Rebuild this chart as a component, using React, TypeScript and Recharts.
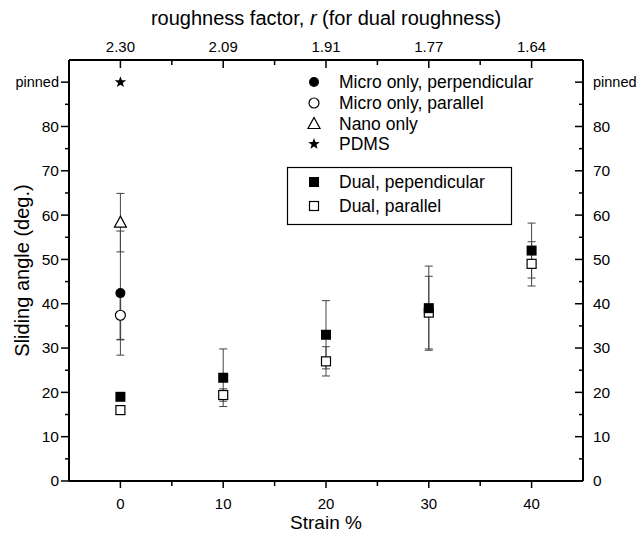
import { ScatterChart, Scatter, XAxis, YAxis, ErrorBar } from 'recharts'

const FONT = '"Liberation Sans", Arial, Helvetica, sans-serif'

// strain (%) and matching roughness factor of the dual-roughness surface
const strain = [0, 10, 20, 30, 40]
const roughness = ['2.30', '2.09', '1.91', '1.77', '1.64']

// dual roughness
const dualPerp = [19, 23.3, 33, 39, 52]
const dualPerpErr = [0.8, 6.5, 7.7, 9.5, 6.2]
const dualPar = [16, 19.4, 27, 38, 49]
const dualParErr = [0.8, 1.4, 3.3, 8.2, 5]

// single roughness / flat, only at 0 % strain
const microPerp = [42.4]
const microPerpErr = [14]
const microPar = [37.4]
const microParErr = [5.5]
const nanoOnly = [58.3]
const nanoOnlyErr = [6.6]
const PINNED = 90
const pdms = [PINNED]

const xTicks = [0, 5, 10, 15, 20, 25, 30, 35, 40]
const yTicks = [0, 5, 10, 15, 20, 25, 30, 35, 40, 45, 50, 55, 60, 65, 70, 75, 80, 85, 90]

const toPoints = (ys: number[], errs?: number[]) =>
  ys.map((y, i) => ({ x: strain[i], y, err: errs ? errs[i] : 0 }))

const dualPerpData = toPoints(dualPerp, dualPerpErr)
const dualParData = toPoints(dualPar, dualParErr)
const microPerpData = toPoints(microPerp, microPerpErr)
const microParData = toPoints(microPar, microParErr)
const nanoData = toPoints(nanoOnly, nanoOnlyErr)
const pdmsData = toPoints(pdms)

// ---- marker shapes
const FilledCircle = ({ cx, cy }: any) => <circle cx={cx} cy={cy} r={5} fill="#000" />
const OpenCircle = ({ cx, cy }: any) => (
  <circle cx={cx} cy={cy} r={5} fill="#fff" stroke="#000" strokeWidth={1.2} />
)
const Triangle = ({ cx, cy }: any) => (
  <path
    d={`M${cx},${cy - 6.5} L${cx + 6},${cy + 4.5} L${cx - 6},${cy + 4.5} Z`}
    fill="#fff"
    stroke="#000"
    strokeWidth={1.2}
  />
)
const Star = ({ cx, cy }: any) => {
  const pts: string[] = []
  for (let i = 0; i < 10; i++) {
    const r = i % 2 === 0 ? 6 : 2.5
    const a = -Math.PI / 2 + (i * Math.PI) / 5
    pts.push(`${cx + r * Math.cos(a)},${cy + r * Math.sin(a)}`)
  }
  return <polygon points={pts.join(' ')} fill="#000" />
}
const FilledSquare = ({ cx, cy }: any) => <rect x={cx - 5} y={cy - 5} width={10} height={10} fill="#000" />
const OpenSquare = ({ cx, cy }: any) => (
  <rect x={cx - 4.5} y={cy - 4.5} width={9} height={9} fill="#fff" stroke="#000" strokeWidth={1.2} />
)

// ---- ticks
function BottomTick({ x, y, payload }: any) {
  const major = payload.value % 10 === 0
  return (
    <g>
      <line x1={x} y1={y} x2={x} y2={y + (major ? 7 : 5)} stroke="#000" strokeWidth={1.5} />
      {major && (
        <text x={x} y={y + 28} textAnchor="middle" fontSize={15} fontFamily={FONT} fill="#000">
          {payload.value}
        </text>
      )}
    </g>
  )
}

function TopTick({ x, y, payload }: any) {
  const major = payload.value % 10 === 0
  const idx = strain.indexOf(payload.value)
  return (
    <g>
      <line x1={x} y1={y} x2={x} y2={y + (major ? 8 : 5)} stroke="#000" strokeWidth={1.5} />
      {major && idx >= 0 && (
        <text x={x} y={y - 8} textAnchor="middle" fontSize={15} fontFamily={FONT} fill="#000">
          {roughness[idx]}
        </text>
      )}
    </g>
  )
}

const yLabel = (v: number) => (v === PINNED ? 'pinned' : String(v))

function LeftTick({ x, y, payload }: any) {
  const major = payload.value % 10 === 0
  const pinned = payload.value === PINNED
  return (
    <g>
      <line x1={x} y1={y} x2={x - (major ? 8 : 4)} y2={y} stroke="#000" strokeWidth={1.5} />
      {major && (
        <text
          x={x - 10}
          y={y}
          dy="0.35em"
          textAnchor="end"
          fontSize={pinned ? 14.5 : 15.5}
          fontFamily={FONT}
          fill="#000"
        >
          {yLabel(payload.value)}
        </text>
      )}
    </g>
  )
}

function RightTick({ x, y, payload }: any) {
  const major = payload.value % 10 === 0
  const pinned = payload.value === PINNED
  return (
    <g>
      <line x1={x} y1={y} x2={x - (major ? 8 : 4)} y2={y} stroke="#000" strokeWidth={1.5} />
      {major && (
        <text
          x={x + 10}
          y={y}
          dy="0.35em"
          textAnchor="start"
          fontSize={pinned ? 14.5 : 15.5}
          fontFamily={FONT}
          fill="#000"
        >
          {yLabel(payload.value)}
        </text>
      )}
    </g>
  )
}

// ---- axis titles
function BottomTitle({ viewBox }: any) {
  return (
    <text x={viewBox.x + viewBox.width / 2} y={viewBox.y + 48} textAnchor="middle" fontSize={19} fontFamily={FONT} fill="#000">
      Strain %
    </text>
  )
}

function TopTitle({ viewBox }: any) {
  return (
    <text x={viewBox.x + viewBox.width / 2} y={25} textAnchor="middle" fontSize={20} fontFamily={FONT} fill="#000">
      roughness factor, <tspan fontStyle="italic">r</tspan>  (for dual roughness)
    </text>
  )
}

function LeftTitle({ viewBox }: any) {
  const cy = viewBox.y + viewBox.height / 2
  return (
    <text
      x={22}
      y={cy}
      transform={`rotate(-90 22 ${cy})`}
      textAnchor="middle"
      dy="0.35em"
      fontSize={20}
      fontFamily={FONT}
      fill="#000"
    >
      Sliding angle (deg.)
    </text>
  )
}

// ---- legend (drawn over the plot)
const legendTop = [
  { name: 'Micro only, perpendicular', Shape: FilledCircle, y: 82 },
  { name: 'Micro only, parallel', Shape: OpenCircle, y: 103 },
  { name: 'Nano only', Shape: Triangle, y: 124 },
  { name: 'PDMS', Shape: Star, y: 144 },
]
const legendBox = [
  { name: 'Dual, pependicular', Shape: FilledSquare, y: 182 },
  { name: 'Dual, parallel', Shape: OpenSquare, y: 206 },
]

function LegendOverlay() {
  const row = (item: any) => (
    <g key={item.name}>
      <item.Shape cx={314} cy={item.y} />
      <text x={339} y={item.y} dy="0.36em" fontSize={17.5} fontFamily={FONT} fill="#000">
        {item.name}
      </text>
    </g>
  )
  return (
    <svg
      width={643}
      height={533}
      style={{ position: 'absolute', left: 0, top: 0, pointerEvents: 'none' }}
    >
      {legendTop.map(row)}
      <rect x={287.5} y={167.5} width={224} height={57} fill="none" stroke="#000" strokeWidth={1.2} />
      {legendBox.map(row)}
    </svg>
  )
}

export default function App() {
  const axisLine = { stroke: '#000', strokeWidth: 2 }
  const errStroke = '#444'
  return (
    <div style={{ position: 'absolute', left: 0, top: 0, width: 643, height: 533, background: '#fff' }}>
      <ScatterChart width={643} height={533} margin={{ top: 0, right: 0, bottom: 0, left: 0 }}>
        <XAxis
          xAxisId="bottom"
          type="number"
          dataKey="x"
          domain={[-5, 45]}
          ticks={xTicks}
          interval={0}
          height={52}
          tickSize={0}
          tickMargin={0}
          tickLine={false}
          axisLine={axisLine}
          tick={<BottomTick />}
          label={<BottomTitle />}
        />
        <XAxis
          xAxisId="top"
          orientation="top"
          type="number"
          dataKey="x"
          domain={[-5, 45]}
          ticks={xTicks}
          interval={0}
          height={60}
          tickSize={0}
          tickMargin={0}
          tickLine={false}
          axisLine={axisLine}
          tick={<TopTick />}
          label={<TopTitle />}
        />
        <YAxis
          yAxisId="left"
          type="number"
          dataKey="y"
          domain={[0, 95]}
          ticks={yTicks}
          interval={0}
          width={69}
          tickSize={0}
          tickMargin={0}
          tickLine={false}
          axisLine={axisLine}
          tick={<LeftTick />}
          label={<LeftTitle />}
        />
        <YAxis
          yAxisId="right"
          orientation="right"
          type="number"
          dataKey="y"
          domain={[0, 95]}
          ticks={yTicks}
          interval={0}
          width={60}
          tickSize={0}
          tickMargin={0}
          tickLine={false}
          axisLine={axisLine}
          tick={<RightTick />}
        />

        <Scatter name="Nano only" data={nanoData} xAxisId="bottom" yAxisId="left" shape={<Triangle />} isAnimationActive={false}>
          <ErrorBar dataKey="err" direction="y" width={4} stroke={errStroke} strokeWidth={1} />
        </Scatter>
        <Scatter name="Micro only, perpendicular" data={microPerpData} xAxisId="bottom" yAxisId="left" shape={<FilledCircle />} isAnimationActive={false}>
          <ErrorBar dataKey="err" direction="y" width={4} stroke={errStroke} strokeWidth={1} />
        </Scatter>
        <Scatter name="Micro only, parallel" data={microParData} xAxisId="bottom" yAxisId="left" shape={<OpenCircle />} isAnimationActive={false}>
          <ErrorBar dataKey="err" direction="y" width={4} stroke={errStroke} strokeWidth={1.5} />
        </Scatter>
        <Scatter name="Dual, parallel" data={dualParData} xAxisId="bottom" yAxisId="left" shape={<OpenSquare />} isAnimationActive={false}>
          <ErrorBar dataKey="err" direction="y" width={4} stroke={errStroke} strokeWidth={1} />
        </Scatter>
        <Scatter name="Dual, pependicular" data={dualPerpData} xAxisId="bottom" yAxisId="left" shape={<FilledSquare />} isAnimationActive={false}>
          <ErrorBar dataKey="err" direction="y" width={4} stroke={errStroke} strokeWidth={1} />
        </Scatter>
        <Scatter name="PDMS" data={pdmsData} xAxisId="top" yAxisId="right" shape={<Star />} isAnimationActive={false} />
      </ScatterChart>
      <LegendOverlay />
    </div>
  )
}
